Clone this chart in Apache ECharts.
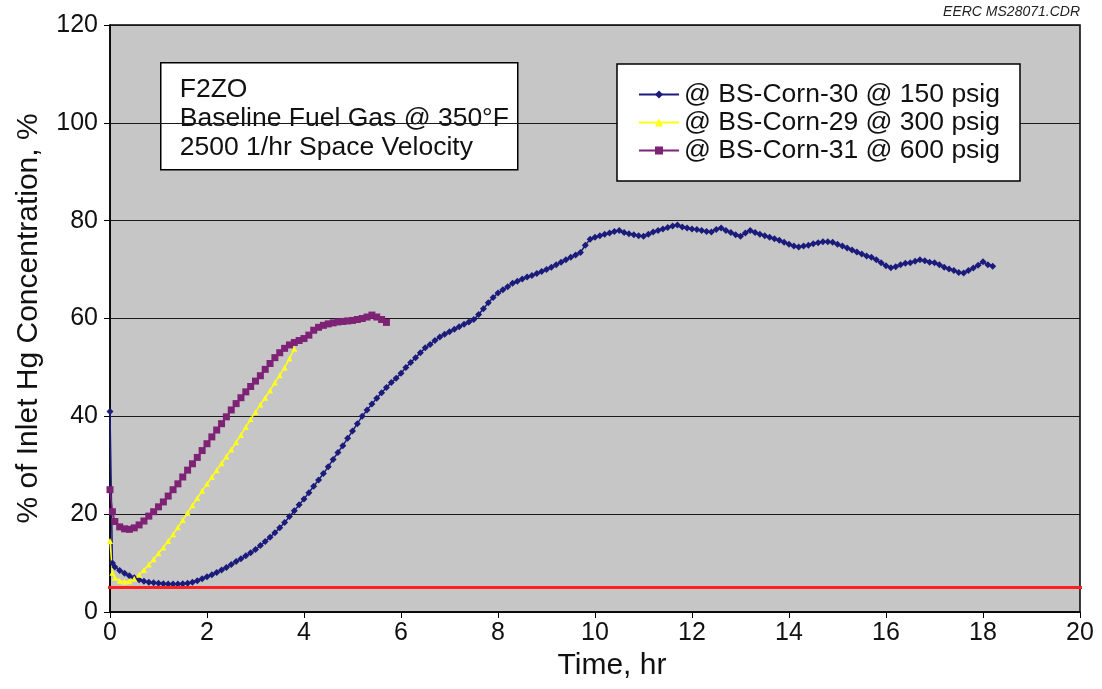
<!DOCTYPE html>
<html>
<head>
<meta charset="utf-8">
<script src="https://cdn.jsdelivr.net/npm/echarts@6/dist/echarts.min.js"></script>
<style>
html,body{margin:0;padding:0;background:#fff;}
#chart{width:1102px;height:689px;}
</style>
</head>
<body>
<div id="chart"></div>
<script>
// ---- data ----
const seriesNames = ['@ BS-Corn-30 @ 150 psig', '@ BS-Corn-29 @ 300 psig', '@ BS-Corn-31 @ 600 psig'];
const xTicks = [0, 2, 4, 6, 8, 10, 12, 14, 16, 18, 20];
const yTicks = [0, 20, 40, 60, 80, 100, 120];
const baselineLevel = 5;

const blueTime = [0,0.05,0.1,0.2,0.3,0.4,0.5,0.6,0.7,0.8,0.9,1.0,1.1,1.2,1.3,1.4,1.5,1.6,1.7,1.8,1.9,2.0,2.1,2.2,2.3,2.4,2.5,2.6,2.7,2.8,2.9,3.0,3.1,3.2,3.3,3.4,3.5,3.6,3.7,3.8,3.9,4.0,4.1,4.2,4.3,4.4,4.5,4.6,4.7,4.8,4.9,5.0,5.1,5.2,5.3,5.4,5.5,5.6,5.7,5.8,5.9,6.0,6.1,6.2,6.3,6.4,6.5,6.6,6.7,6.8,6.9,7.0,7.1,7.2,7.3,7.4,7.5,7.6,7.7,7.8,7.9,8.0,8.1,8.2,8.3,8.4,8.5,8.6,8.7,8.8,8.9,9.0,9.1,9.2,9.3,9.4,9.5,9.6,9.7,9.8,9.9,10.0,10.1,10.2,10.3,10.4,10.5,10.6,10.7,10.8,10.9,11.0,11.1,11.2,11.3,11.4,11.5,11.6,11.7,11.8,11.9,12.0,12.1,12.2,12.3,12.4,12.5,12.6,12.7,12.8,12.9,13.0,13.1,13.2,13.3,13.4,13.5,13.6,13.7,13.8,13.9,14.0,14.1,14.2,14.3,14.4,14.5,14.6,14.7,14.8,14.9,15.0,15.1,15.2,15.3,15.4,15.5,15.6,15.7,15.8,15.9,16.0,16.1,16.2,16.3,16.4,16.5,16.6,16.7,16.8,16.9,17.0,17.1,17.2,17.3,17.4,17.5,17.6,17.7,17.8,17.9,18.0,18.1,18.2];
const blueValue = [41,10,9.2,8.5,7.9,7.4,7.0,6.6,6.3,6.1,6.0,5.9,5.8,5.7,5.7,5.7,5.8,5.9,6.1,6.4,6.8,7.2,7.6,8.1,8.6,9.1,9.7,10.3,10.9,11.5,12.1,12.8,13.6,14.4,15.3,16.2,17.2,18.3,19.5,20.7,21.9,23.1,24.4,25.7,27.0,28.3,29.7,31.2,32.6,34.0,35.5,37.0,38.5,40.0,41.3,42.5,43.7,44.8,45.9,46.9,47.8,48.8,50.0,51.0,52.0,53.0,54.0,54.7,55.5,56.2,56.8,57.3,57.8,58.3,58.8,59.3,59.8,60.8,62.0,63.2,64.3,65.2,65.9,66.5,67.2,67.6,68.1,68.5,68.8,69.2,69.6,70.0,70.5,71.0,71.5,72.0,72.5,73.0,73.5,75.0,76.2,76.6,76.9,77.2,77.5,77.8,78.0,77.6,77.3,77.1,76.9,76.8,77.2,77.7,78.0,78.3,78.6,78.9,79.1,78.7,78.5,78.3,78.2,78.0,77.8,77.7,78.2,78.5,78.0,77.6,77.1,76.8,77.5,78.0,77.6,77.2,76.9,76.6,76.3,76.0,75.6,75.2,74.8,74.6,74.8,75.0,75.3,75.5,75.7,75.7,75.6,75.2,74.8,74.4,74.0,73.6,73.2,72.8,72.5,72.0,71.4,70.8,70.4,70.6,71.0,71.3,71.4,71.7,72.0,71.8,71.5,71.4,71.0,70.5,70.1,69.8,69.4,69.3,69.8,70.3,70.9,71.6,71.0,70.7];

const yellowTime = [0,0.05,0.1,0.2,0.3,0.4,0.5,0.6,0.7,0.8,0.9,1.0,1.1,1.2,1.3,1.4,1.5,1.6,1.7,1.8,1.9,2.0,2.1,2.2,2.3,2.4,2.5,2.6,2.7,2.8,2.9,3.0,3.1,3.2,3.3,3.4,3.5,3.6,3.7,3.8];
const yellowValue = [14.5,8,7,6.4,6.2,6.3,6.8,7.6,8.6,9.7,10.8,12.0,13.2,14.5,15.9,17.3,18.8,20.3,21.8,23.3,24.8,26.2,27.6,29.0,30.4,31.8,33.2,34.7,36.2,37.8,39.4,40.9,42.4,43.8,45.3,46.9,48.4,50.0,51.8,53.8];

const purpleTime = [0,0.05,0.1,0.2,0.3,0.4,0.5,0.6,0.7,0.8,0.9,1.0,1.1,1.2,1.3,1.4,1.5,1.6,1.7,1.8,1.9,2.0,2.1,2.2,2.3,2.4,2.5,2.6,2.7,2.8,2.9,3.0,3.1,3.2,3.3,3.4,3.5,3.6,3.7,3.8,3.9,4.0,4.1,4.2,4.3,4.4,4.5,4.6,4.7,4.8,4.9,5.0,5.1,5.2,5.3,5.4,5.5,5.6,5.7];
const purpleValue = [25,20.5,18.5,17.4,17.0,16.9,17.2,17.8,18.6,19.6,20.5,21.5,22.5,23.7,25.0,26.2,27.6,29.0,30.3,31.6,33.0,34.4,35.8,37.2,38.5,39.9,41.3,42.6,43.8,45.0,46.1,47.2,48.3,49.6,50.8,52.0,53.0,53.9,54.6,55.1,55.5,55.9,56.6,57.6,58.2,58.6,58.9,59.1,59.3,59.4,59.5,59.6,59.8,60.0,60.3,60.7,60.3,59.8,59.2];

const noteLines = ['F2ZO', 'Baseline Fuel Gas @ 350°F', '2500 1/hr Space Velocity'];
const stampText = 'EERC MS28071.CDR';
const xName = 'Time, hr';
const yName = '% of Inlet Hg Concentration, %';

function pairs(t, v) { return t.map((x, i) => [x, v[i]]); }

const FONT = '"Liberation Sans", Arial, sans-serif';
const chart = echarts.init(document.getElementById('chart'), null, {renderer: 'canvas'});

chart.setOption({
  animation: false,
  backgroundColor: '#ffffff',
  grid: {
    left: 110, right: 22, top: 25, bottom: 77,
    show: true, backgroundColor: '#c6c6c6', borderColor: '#000', borderWidth: 1.5
  },
  xAxis: {
    type: 'value', min: xTicks[0], max: xTicks[xTicks.length - 1], interval: 2,
    name: xName, nameLocation: 'middle', nameGap: 35,
    nameTextStyle: {fontFamily: FONT, fontSize: 30, color: '#111', padding: [0, 0, 0, 34]},
    axisLine: {show: true, onZero: false, lineStyle: {color: '#000', width: 1.5}},
    axisTick: {show: true, inside: false, length: 6, lineStyle: {color: '#000', width: 1}},
    axisLabel: {fontFamily: FONT, fontSize: 25, color: '#111', margin: 9},
    splitLine: {show: false}
  },
  yAxis: {
    type: 'value', min: yTicks[0], max: yTicks[yTicks.length - 1], interval: 20,
    name: yName, nameLocation: 'middle', nameGap: 66, nameRotate: 90,
    nameTextStyle: {fontFamily: FONT, fontSize: 30, color: '#111'},
    axisLine: {show: true, lineStyle: {color: '#000', width: 1.5}},
    axisTick: {show: true, inside: false, length: 6, lineStyle: {color: '#000', width: 1}},
    axisLabel: {fontFamily: FONT, fontSize: 25, color: '#111', margin: 12},
    splitLine: {show: true, lineStyle: {color: '#1a1a1a', width: 1}}
  },
  legend: {
    data: seriesNames,
    orient: 'vertical', left: 617, top: 64,
    backgroundColor: '#ffffff', borderColor: '#000', borderWidth: 1.5,
    padding: [17, 20, 17, 21], itemGap: 1, itemWidth: 40, itemHeight: 10, itemTextGap: 13,
    textStyle: {fontFamily: FONT, fontSize: 26.5, color: '#111'}
  },
  graphic: [
    {
      type: 'group', left: 160, top: 62,
      children: [
        {type: 'rect', shape: {x: 0, y: 0, width: 357, height: 107},
         style: {fill: '#fff', stroke: '#000', lineWidth: 1.5}},
        {type: 'text', x: 19, y: 12,
         style: {text: noteLines.join('\n'), font: '26.5px ' + FONT, fill: '#111', lineHeight: 29}}
      ]
    },
    {
      type: 'text', right: 22, top: 5,
      style: {text: stampText, font: 'italic 14px ' + FONT, fill: '#222'}
    }
  ],
  series: [
    {
      name: seriesNames[0], type: 'line', data: pairs(blueTime, blueValue),
      symbol: 'diamond', symbolSize: 7, showAllSymbol: true,
      lineStyle: {color: '#1b1b7c', width: 1.5},
      itemStyle: {color: '#1b1b7c'}
    },
    {
      name: seriesNames[1], type: 'line', data: pairs(yellowTime, yellowValue),
      symbol: 'triangle', symbolSize: 6, showAllSymbol: true,
      lineStyle: {color: '#ffff1a', width: 1.5},
      itemStyle: {color: '#ffff1a'}
    },
    {
      name: seriesNames[2], type: 'line', data: pairs(purpleTime, purpleValue),
      symbol: 'rect', symbolSize: 7, showAllSymbol: true,
      lineStyle: {color: '#7d2274', width: 1.5},
      itemStyle: {color: '#7d2274'}
    },
    {
      name: 'baseline', type: 'line', clip: false,
      data: [[xTicks[0] - 0.1, baselineLevel], [xTicks[xTicks.length - 1] + 0.15, baselineLevel]],
      symbol: 'none', lineStyle: {color: '#ff2020', width: 3}, silent: true, z: 5
    }
  ]
});
</script>
</body>
</html>
